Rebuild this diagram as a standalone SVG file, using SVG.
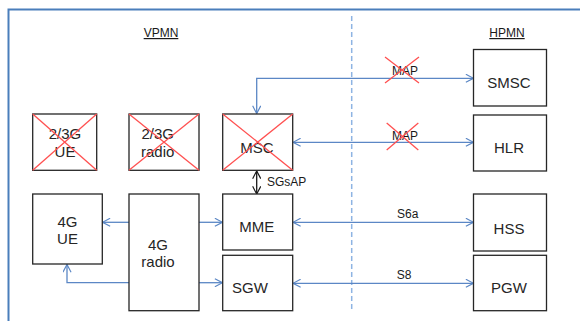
<svg xmlns="http://www.w3.org/2000/svg" width="580" height="321" viewBox="0 0 580 321">
<style>
.box{fill:#fff;stroke:#262626;stroke-width:1.3}
.lbl{font-family:"Liberation Sans",Arial,sans-serif;font-size:15px;fill:#262626;text-anchor:middle}
.sm{font-family:"Liberation Sans",Arial,sans-serif;font-size:12px;fill:#1a1a1a;text-anchor:middle}
.st{text-anchor:start}
.x{stroke:#ff5050;stroke-width:1.3}
.conn{fill:none;stroke:#5b87c5;stroke-width:1.3}
</style>
<defs>
<marker id="ah" viewBox="0 0 10 10" refX="9.5" refY="5" markerWidth="9" markerHeight="9" markerUnits="userSpaceOnUse" orient="auto-start-reverse">
<path d="M1,0.5 L9.5,5 L1,9.5" fill="none" stroke="#5b87c5" stroke-width="1.3"/>
</marker>
<marker id="ak" viewBox="0 0 10 10" refX="9.5" refY="5" markerWidth="9" markerHeight="9" markerUnits="userSpaceOnUse" orient="auto-start-reverse">
<path d="M1,0.5 L9.5,5 L1,9.5" fill="none" stroke="#1a1a1a" stroke-width="1.3"/>
</marker>
</defs>
<rect width="580" height="321" fill="#fff"/>
<rect x="8.5" y="9.5" width="620" height="400" fill="none" stroke="#4a7ebb" stroke-width="2"/>
<line x1="351.7" y1="16" x2="351.7" y2="310" stroke="#8eb4e3" stroke-width="1.5" stroke-dasharray="5,3"/>
<g id="region-labels">
<text class="sm" x="161" y="37" text-decoration="underline">VPMN</text>
<text class="sm" x="507" y="37" text-decoration="underline">HPMN</text>
</g>
<g id="connectors">
<path class="conn" d="M473.5,78.3 H256.7 V113.5" marker-start="url(#ah)" marker-end="url(#ah)"/>
<line class="conn" x1="293" y1="142.3" x2="473.5" y2="142.3" marker-start="url(#ah)" marker-end="url(#ah)"/>
<line x1="256.7" y1="171" x2="256.7" y2="194" fill="none" stroke="#1a1a1a" stroke-width="1.3" marker-start="url(#ak)" marker-end="url(#ak)"/>
<line class="conn" x1="293" y1="222.3" x2="473.5" y2="222.3" marker-start="url(#ah)" marker-end="url(#ah)"/>
<line class="conn" x1="293" y1="283.3" x2="473.5" y2="283.3" marker-start="url(#ah)" marker-end="url(#ah)"/>
<line class="conn" x1="129" y1="222.3" x2="102.5" y2="222.3" marker-end="url(#ah)"/>
<line class="conn" x1="199" y1="222.3" x2="222.5" y2="222.3" marker-end="url(#ah)"/>
<line class="conn" x1="199" y1="282.7" x2="222.5" y2="282.7" marker-end="url(#ah)"/>
<path class="conn" d="M129,282.7 H67 V264.5" marker-end="url(#ah)"/>
<text class="sm" x="405" y="75">MAP</text>
<line class="x" x1="385" y1="57" x2="419" y2="83"/>
<line class="x" x1="419" y1="57" x2="385" y2="83"/>
<text class="sm" x="405" y="140">MAP</text>
<line class="x" x1="386.7" y1="123" x2="418.3" y2="150"/>
<line class="x" x1="418.3" y1="123" x2="386.7" y2="150"/>
<text class="sm st" x="267" y="186">SGsAP</text>
<text class="sm" x="407.7" y="217.7">S6a</text>
<text class="sm" x="404" y="279">S8</text>
</g>
<g id="ue23">
<rect class="box" x="32.7" y="114" width="64" height="56.3"/>
<text class="lbl" x="65" y="139">2/3G</text>
<text class="lbl" x="65" y="157">UE</text>
<line class="x" x1="32.7" y1="114" x2="96.7" y2="170.3"/>
<line class="x" x1="96.7" y1="114" x2="32.7" y2="170.3"/>
</g>
<g id="radio23">
<rect class="box" x="129" y="114" width="70" height="56.3"/>
<text class="lbl" x="157.7" y="139">2/3G</text>
<text class="lbl" x="157.7" y="157">radio</text>
<line class="x" x1="129" y1="114" x2="199" y2="170.3"/>
<line class="x" x1="199" y1="114" x2="129" y2="170.3"/>
</g>
<g id="msc">
<rect class="box" x="222.7" y="114" width="70" height="56.3"/>
<text class="lbl" x="257" y="153">MSC</text>
<line class="x" x1="222.7" y1="114" x2="292.7" y2="170.3"/>
<line class="x" x1="292.7" y1="114" x2="222.7" y2="170.3"/>
</g>
<g id="smsc">
<rect class="box" x="473.5" y="49.5" width="73" height="56.5"/>
<text class="lbl" x="509" y="88">SMSC</text>
</g>
<g id="hlr">
<rect class="box" x="473.5" y="115" width="73" height="56"/>
<text class="lbl" x="509" y="153">HLR</text>
</g>
<g id="ue4g">
<rect class="box" x="32.7" y="194" width="69.6" height="70"/>
<text class="lbl" x="67.5" y="227">4G</text>
<text class="lbl" x="67.5" y="244">UE</text>
</g>
<g id="radio4g">
<rect class="box" x="129" y="194" width="70" height="116.7"/>
<text class="lbl" x="158" y="250">4G</text>
<text class="lbl" x="158" y="267">radio</text>
</g>
<g id="mme">
<rect class="box" x="222.7" y="194" width="70" height="56"/>
<text class="lbl" x="256.7" y="231.5">MME</text>
</g>
<g id="sgw">
<rect class="box" x="222.7" y="255.3" width="70" height="55.4"/>
<text class="lbl" x="250" y="293">SGW</text>
</g>
<g id="hss">
<rect class="box" x="473.5" y="194" width="73" height="57"/>
<text class="lbl" x="509" y="234">HSS</text>
</g>
<g id="pgw">
<rect class="box" x="473.5" y="255.3" width="73" height="55.4"/>
<text class="lbl" x="509" y="293">PGW</text>
</g>
</svg>
